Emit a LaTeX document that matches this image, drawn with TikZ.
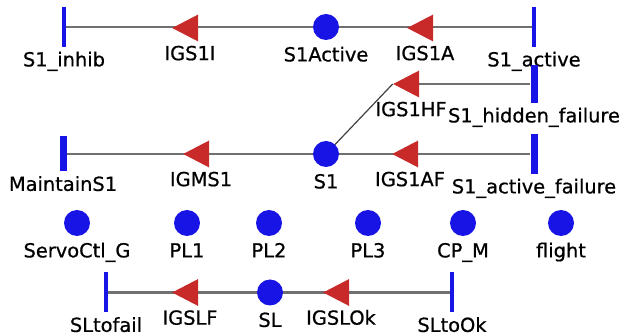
\documentclass[tikz,border=0pt]{standalone}
\usepackage{fontspec}
\setmainfont[FakeBold=0.7]{DejaVu Sans}
\usetikzlibrary{shapes.geometric,backgrounds}
\definecolor{pblue}{RGB}{25,20,230}
\definecolor{ared}{RGB}{200,42,42}
\definecolor{lgray}{RGB}{112,112,112}
\tikzset{
  place/.style={circle,fill=pblue,minimum size=26pt,inner sep=0pt,label={[yshift=-7pt]below:#1}},
  trans/.style={rectangle,fill=pblue,minimum width=4pt,minimum height=40pt,inner sep=0pt,label={[yshift=-5pt]below:#1}},
  fat/.style={minimum width=7pt},
  arr/.style={isosceles triangle,shape border rotate=180,isosceles triangle stretches,
    fill=ared,minimum width=27pt,minimum height=26pt,inner sep=0pt,label={[yshift=-8.5pt]below:#1}},
  arcline/.style={draw=lgray,line width=2.5pt},
  diag/.style={draw=black!75,line width=1.2pt},
  every label/.style={font=\fontsize{19.4}{19.4}\selectfont,inner sep=0pt,text height=14pt,text depth=4pt}
}
\begin{document}
\begin{tikzpicture}[x=1pt,y=-1pt]
\useasboundingbox (0,0) rectangle (619,336);
% S1 activation
\node[trans=S1\_inhib] (inhib) at (64,27) {};
\node[arr=IGS1I] (IGS1I) at (190,28) {};
\node[place=S1Active] (S1Active) at (326,27) {};
\node[arr=IGS1A] (IGS1A) at (425,28) {};
\node[trans=S1\_active] (active) at (534,27) {};
% failures
\node[trans=S1\_hidden\_failure,fat,minimum height=38pt] (hidden) at (534,84) {};
\node[arr=IGS1HF] (IGS1HF) at (411,84) {};
\node[trans=MaintainS1,fat,minimum height=35pt] (maintain) at (63,154) {};
\node[arr=IGMS1] (IGMS1) at (201,154) {};
\node[place=S1] (S1) at (326,154) {};
\node[arr=IGS1AF] (IGS1AF) at (410,154) {};
\node[trans=S1\_active\_failure,fat] (afail) at (534,154) {};
% isolated places
\foreach \x/\nm/\t in {77/servo/ServoCtl\_G,187/PL1/PL1,269/PL2/PL2,368/PL3/PL3,463/CPM/CP\_M,561/flight/flight}
  \node[place=\t] (\nm) at (\x,223) {};
% SL
\node[trans=SLtofail] (tofail) at (106,292.5) {};
\node[arr=IGSLF] (IGSLF) at (190,292.5) {};
\node[place=SL] (SL) at (270,292.5) {};
\node[arr=IGSLOk] (IGSLOk) at (341,292.5) {};
\node[trans=SLtoOk] (took) at (452,292.5) {};
\begin{scope}[on background layer]
\draw[arcline] (active) -- (inhib);
\draw[arcline] (hidden) -- (IGS1HF.center);
\draw[diag] (S1.center) -- (IGS1HF.west);
\draw[arcline] (afail) -- (maintain);
\draw[arcline] (took) -- (tofail);
\end{scope}
\end{tikzpicture}
\end{document}
